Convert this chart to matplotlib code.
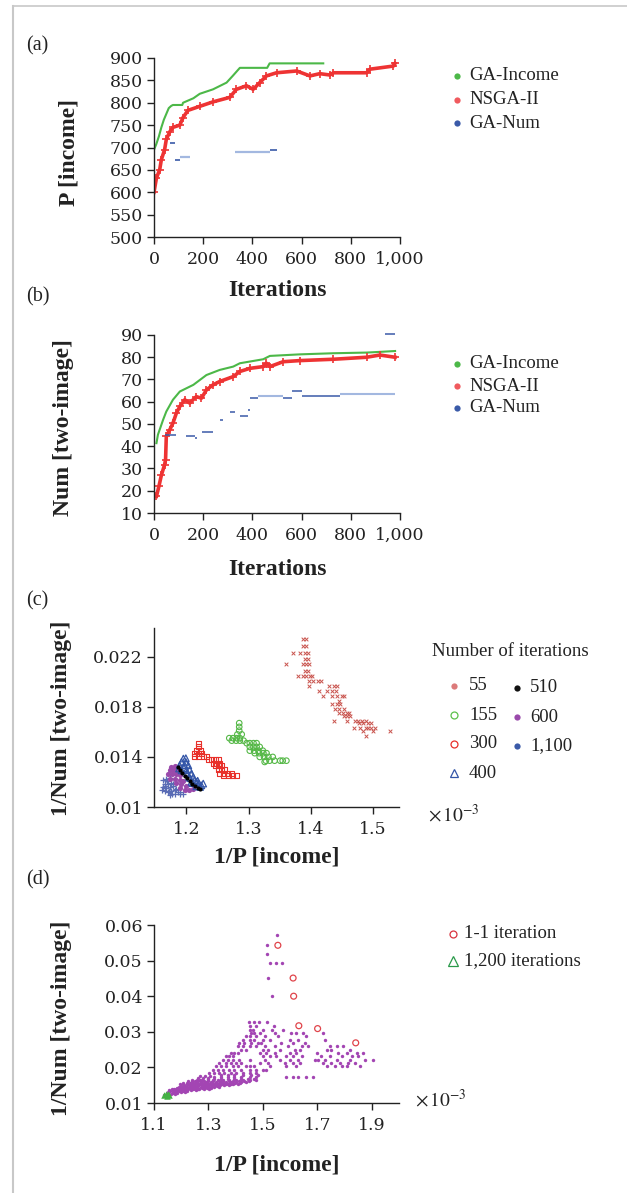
import matplotlib
matplotlib.use('Agg')
import matplotlib.pyplot as plt
from matplotlib.lines import Line2D

W, H = 627, 1193
plt.rcParams['font.family'] = ['Liberation Serif', 'DejaVu Serif']
plt.rcParams['mathtext.fontset'] = 'stix'

# ---------------- data: panel (a) ----------------
a_inc_it = [0, 9, 20, 30, 40, 50, 60, 70, 77, 115, 118, 160, 186, 240, 295, 320, 349, 460, 470, 688]
a_inc_val = [695, 707, 725, 745, 762, 775, 788, 793, 795, 795, 800, 810, 820, 830, 845, 860, 878, 878, 888, 888]
a_nsga_it = [0, 10, 23, 30, 43, 50, 64, 77, 105, 118, 138, 186, 240, 308, 335, 376, 403, 430, 457,
             498, 580, 634, 674, 715, 729, 864, 878, 973, 980]
a_nsga_val = [600, 632, 650, 673, 695, 718, 735, 745, 750, 767, 783, 792, 802, 812, 830, 838, 830, 845, 860,
              867, 871, 860, 865, 862, 867, 867, 875, 882, 888]
a_num_dark_start = [64, 84, 471]
a_num_dark_end = [84, 105, 500]
a_num_dark_val = [709, 673, 695]
a_num_light_start = [105, 328]
a_num_light_end = [145, 471]
a_num_light_val = [678, 690]

# ---------------- data: panel (b) ----------------
b_inc_it = [10, 16, 37, 50, 77, 105, 160, 213, 267, 322, 349, 444, 471, 593, 729, 864, 932, 980]
b_inc_val = [41.4, 45.2, 51.9, 55.6, 60.9, 64.6, 67.6, 72.0, 74.3, 75.8, 77.3, 79.1, 80.6, 81.3, 81.8, 82.1, 82.5, 82.8]
b_nsga_it = [10, 20, 30, 43, 47, 50, 64, 77, 91, 105, 125, 145, 172, 193, 213, 240, 267, 322, 349, 389,
             444, 457, 471, 525, 593, 729, 864, 918, 980]
b_nsga_val = [17.5, 22.0, 27.0, 31.7, 34.0, 44.4, 47.4, 50.4, 54.9, 57.9, 60.9, 59.4, 62.3, 61.6, 65.3, 67.6,
              69.1, 71.3, 73.6, 75.0, 75.8, 77.3, 75.8, 78.0, 78.5, 79.1, 80.0, 81.0, 80.0]
b_num_dark_start = [43, 132, 166, 197, 267, 308, 349, 383, 389, 525, 559, 600, 939]
b_num_dark_end = [91, 166, 175, 240, 281, 328, 383, 389, 423, 559, 600, 756, 980]
b_num_dark_val = [45.2, 44.7, 43.7, 46.6, 51.9, 55.6, 53.8, 56.4, 61.6, 61.6, 64.9, 62.6, 90.4]
b_num_light_start = [423, 756]
b_num_light_end = [525, 980]
b_num_light_val = [62.6, 63.5]

# ---------------- data: panel (c)  (1/P in 1e-3, 1/Num) ----------------
c55_rows = [
    (0.0234, [1.387, 1.392]), (0.0229, [1.387, 1.393]), (0.0223, [1.372, 1.383, 1.391, 1.395]),
    (0.0218, [1.391, 1.395]), (0.0214, [1.360, 1.387, 1.392, 1.397]), (0.0209, [1.391, 1.396]),
    (0.0205, [1.379, 1.387, 1.392, 1.399, 1.403]), (0.0201, [1.398, 1.404, 1.412, 1.416]),
    (0.0197, [1.398, 1.430, 1.437, 1.442]), (0.0193, [1.414, 1.426, 1.434, 1.441]),
    (0.0189, [1.420, 1.434, 1.442, 1.450, 1.454]), (0.0185, [1.446]),
    (0.0182, [1.435, 1.442, 1.447]), (0.0178, [1.439, 1.445, 1.453]),
    (0.0175, [1.446, 1.452, 1.458, 1.462]), (0.0173, [1.453, 1.458, 1.463]),
    (0.0169, [1.437, 1.458, 1.472, 1.477, 1.482, 1.489]), (0.0167, [1.478, 1.485, 1.493, 1.498]),
    (0.0163, [1.470, 1.480, 1.489, 1.493, 1.498, 1.504]), (0.0161, [1.485, 1.500, 1.528]),
    (0.0157, [1.489]),
]
c155_rows = [
    (0.0167, [1.285]), (0.0164, [1.285]), (0.0161, [1.285]), (0.0158, [1.282, 1.289]),
    (0.0155, [1.269, 1.275, 1.281, 1.286]), (0.0153, [1.273, 1.280, 1.286, 1.292]),
    (0.0151, [1.297, 1.302, 1.308, 1.313]), (0.0148, [1.302, 1.308, 1.313, 1.318]),
    (0.0145, [1.302, 1.309, 1.316, 1.323]), (0.0143, [1.310, 1.317, 1.324, 1.329]),
    (0.0140, [1.318, 1.325, 1.332, 1.339]), (0.0137, [1.328, 1.334, 1.342, 1.351, 1.355, 1.361]),
    (0.0136, [1.326]),
]
c300_rows = [
    (0.0151, [1.219]), (0.0148, [1.219]), (0.0145, [1.216, 1.222]), (0.0143, [1.213, 1.220, 1.224]),
    (0.0140, [1.213, 1.219, 1.227, 1.232]), (0.0138, [1.235, 1.240, 1.246, 1.251]),
    (0.0135, [1.243, 1.248, 1.254]), (0.0133, [1.246, 1.251, 1.256]),
    (0.0130, [1.251, 1.256, 1.262]), (0.0127, [1.254, 1.260, 1.266, 1.273]),
    (0.0125, [1.260, 1.267, 1.274, 1.280]),
]
c400_x = [1.195, 1.192, 1.199, 1.189, 1.197, 1.203, 1.188, 1.205, 1.192, 1.200, 1.208, 1.211, 1.204,
          1.213, 1.216, 1.220, 1.224, 1.227, 1.208, 1.216, 1.222, 1.199, 1.196, 1.201, 1.206, 1.210, 1.218]
c400_y = [0.01387, 0.0136, 0.0136, 0.01333, 0.01333, 0.01333, 0.01307, 0.01299, 0.01293, 0.01293, 0.01267,
          0.0124, 0.0124, 0.01213, 0.0120, 0.01187, 0.01173, 0.01187, 0.0120, 0.01165, 0.0116, 0.0139,
          0.0131, 0.0127, 0.0123, 0.0119, 0.0121]
c510_x = [1.1866, 1.1903, 1.1935, 1.1973, 1.2011, 1.2054, 1.2097, 1.2140, 1.2188, 1.2215]
c510_y = [0.0132, 0.01293, 0.01272, 0.01251, 0.01229, 0.01208, 0.01187, 0.01171, 0.01155, 0.01141]
c600_x = [1.1758, 1.1812, 1.1866, 1.1731, 1.1796, 1.1866, 1.1704, 1.1774, 1.1839, 1.1903, 1.1731, 1.1812,
          1.1892, 1.1946, 1.1839, 1.1919, 1.1989, 1.1892, 1.1973, 1.2043, 1.2108]
c600_y = [0.0132, 0.01325, 0.01315, 0.01293, 0.01293, 0.01288, 0.01261, 0.01261, 0.01261, 0.01253, 0.01227,
          0.01227, 0.01219, 0.01208, 0.01192, 0.01181, 0.01165, 0.01155, 0.01139, 0.01139, 0.01147]
c1100_x = [1.1624, 1.1677, 1.1731, 1.1651, 1.1704, 1.1758, 1.1624, 1.1677, 1.1731, 1.1785, 1.1651, 1.1704,
           1.1758, 1.1812, 1.1866, 1.1731, 1.1812, 1.1892, 1.1946, 1.1613,
           1.168, 1.178, 1.183, 1.172, 1.190, 1.176, 1.166]
c1100_y = [0.01213, 0.01227, 0.01235, 0.01187, 0.01187, 0.01192, 0.0116, 0.01155, 0.0116, 0.01165, 0.01128,
           0.0112, 0.01128, 0.01133, 0.0112, 0.01093, 0.01101, 0.01107, 0.01101, 0.01133,
           0.0121, 0.0118, 0.0114, 0.0113, 0.0112, 0.0110, 0.0117]

# ---------------- data: panel (d) ----------------
d_rows = [
    (0.0573, [1.552]), (0.0543, [1.515]), (0.0519, [1.515]), (0.0493, [1.525, 1.549, 1.571]),
    (0.0451, [1.518]), (0.0400, [1.534]),
    (0.0327, [1.448, 1.469, 1.485, 1.515]),
    (0.0315, [1.454, 1.473, 1.539]),
    (0.0306, [1.451, 1.463, 1.500, 1.534, 1.574]),
    (0.0297, [1.457, 1.469, 1.488, 1.543, 1.605, 1.623, 1.648, 1.722]),
    (0.0287, [1.438, 1.451, 1.475, 1.506, 1.555, 1.660]),
    (0.0278, [1.426, 1.451, 1.466, 1.500, 1.525, 1.598, 1.629, 1.728]),
    (0.0269, [1.414, 1.432, 1.457, 1.482, 1.494, 1.568, 1.611, 1.654]),
    (0.0260, [1.408, 1.426, 1.451, 1.475, 1.506, 1.543, 1.592, 1.642, 1.666, 1.746, 1.771, 1.795]),
    (0.0250, [1.420, 1.438, 1.500, 1.518, 1.562, 1.617, 1.635, 1.734, 1.752, 1.820]),
    (0.0240, [1.383, 1.395, 1.408, 1.488, 1.512, 1.543, 1.598, 1.623, 1.697, 1.777, 1.808, 1.845, 1.869]),
    (0.0231, [1.365, 1.377, 1.389, 1.500, 1.525, 1.549, 1.586, 1.611, 1.642, 1.715, 1.746, 1.789, 1.826, 1.851]),
    (0.0222, [1.352, 1.371, 1.389, 1.414, 1.451, 1.506, 1.562, 1.598, 1.629, 1.691, 1.703, 1.728, 1.771,
              1.820, 1.875, 1.906]),
    (0.0212, [1.340, 1.365, 1.383, 1.402, 1.420, 1.488, 1.518, 1.580, 1.611, 1.635, 1.722, 1.752, 1.783,
              1.814, 1.838]),
    (0.0203, [1.328, 1.346, 1.365, 1.389, 1.408, 1.438, 1.451, 1.469, 1.525, 1.586, 1.623, 1.734, 1.765,
              1.789, 1.808, 1.857]),
    (0.0194, [1.315, 1.334, 1.352, 1.377, 1.395, 1.420, 1.451, 1.475, 1.500, 1.512]),
    (0.0184, [1.303, 1.322, 1.340, 1.358, 1.383, 1.402, 1.426, 1.451, 1.475]),
    (0.0180, [1.346, 1.371, 1.395, 1.426, 1.457, 1.482]),
    (0.0176, [1.270, 1.288, 1.305]),
    (0.0174, [1.322, 1.346, 1.371, 1.395, 1.420, 1.451, 1.475, 1.586, 1.611, 1.629, 1.660, 1.685]),
    (0.0171, [1.262, 1.280, 1.300]),
    (0.0168, [1.297, 1.322, 1.346, 1.371, 1.395, 1.420, 1.445, 1.469]),
    (0.0166, [1.240, 1.258, 1.270]),
    (0.0164, [1.278, 1.297, 1.315, 1.334, 1.352, 1.377, 1.402, 1.426, 1.451, 1.475]),
    (0.0162, [1.225, 1.240, 1.250]),
    (0.0161, [1.262, 1.282, 1.300, 1.318, 1.337, 1.355, 1.374, 1.392, 1.411, 1.430, 1.448]),
    (0.0159, [1.254, 1.272, 1.291, 1.309, 1.328, 1.346, 1.365, 1.383, 1.402, 1.420, 1.438]),
    (0.0157, [1.205, 1.222, 1.232, 1.244, 1.258, 1.276, 1.293, 1.310, 1.326, 1.343, 1.361, 1.380, 1.398, 1.417]),
    (0.0154, [1.235, 1.251, 1.266, 1.285, 1.301, 1.318, 1.334, 1.352, 1.371, 1.389, 1.408]),
    (0.0153, [1.195, 1.208]),
    (0.0152, [1.220, 1.235, 1.250, 1.268, 1.284, 1.300, 1.317, 1.333, 1.350, 1.366, 1.383]),
    (0.0150, [1.211, 1.227, 1.242, 1.260, 1.276, 1.291, 1.309, 1.325, 1.342, 1.358, 1.374]),
    (0.0147, [1.200, 1.215, 1.231, 1.247, 1.263, 1.280, 1.296, 1.313, 1.330]),
    (0.0145, [1.192, 1.207, 1.223, 1.239, 1.254, 1.272, 1.288, 1.303, 1.322, 1.338]),
    (0.0143, [1.183, 1.198, 1.213, 1.228, 1.243, 1.259, 1.276, 1.293, 1.310]),
    (0.0140, [1.174, 1.190, 1.205, 1.219, 1.235, 1.251, 1.266, 1.285, 1.301]),
    (0.0138, [1.165, 1.180, 1.195, 1.210, 1.226, 1.243, 1.262]),
    (0.0136, [1.155, 1.170, 1.186, 1.202, 1.217, 1.235, 1.254]),
    (0.0133, [1.160, 1.175, 1.190, 1.206, 1.222]),
    (0.0131, [1.153, 1.168, 1.182, 1.198, 1.214]),
    (0.0128, [1.152, 1.168, 1.184]),
    (0.0126, [1.146, 1.162, 1.178]),
    (0.0122, [1.137, 1.149]),
]
d_one_x = [1.555, 1.611, 1.613, 1.632, 1.701, 1.841]
d_one_y = [0.0543, 0.0451, 0.0400, 0.0317, 0.0309, 0.0269]
d_1200_x = [1.138, 1.143, 1.148, 1.152, 1.156]
d_1200_y = [0.0122, 0.0125, 0.0121, 0.0124, 0.0122]

a_xticks = [0, 200, 400, 600, 800, 1000]
a_xticklabels = ['0', '200', '400', '600', '800', '1,000']
a_yticks = [500, 550, 600, 650, 700, 750, 800, 850, 900]
b_yticks = [10, 20, 30, 40, 50, 60, 70, 80, 90]
c_xticks = [1.2, 1.3, 1.4, 1.5]
c_xticklabels = ['1.2', '1.3', '1.4', '1.5']
c_yticks = [0.010, 0.014, 0.018, 0.022]
c_yticklabels = ['0.01', '0.014', '0.018', '0.022']
d_xticks = [1.1, 1.3, 1.5, 1.7, 1.9]
d_xticklabels = ['1.1', '1.3', '1.5', '1.7', '1.9']
d_yticks = [0.01, 0.02, 0.03, 0.04, 0.05, 0.06]
d_yticklabels = ['0.01', '0.02', '0.03', '0.04', '0.05', '0.06']

# ---------------- colours ----------------
GREEN = '#4cb848'
RED = '#ee3333'
BLUE = '#3a5aa8'
LBLUE = '#a3b8e0'
C55 = '#c9544e'
C155 = '#55b847'
C300 = '#e8302a'
C400 = '#3355a8'
C600 = '#9a4aab'
C1100 = '#5a6cb5'
PURPLE = '#a345b3'
TXT = '#222222'
TICKFONT = ['DejaVu Serif']


def flat(rows):
    xs, ys = [], []
    for y, row in rows:
        for x in row:
            xs.append(x)
            ys.append(y)
    return xs, ys


fig = plt.figure(figsize=(W / 100, H / 100), dpi=100)


def fx(px):
    return px / W


def fy(py):
    return 1 - py / H


def style(ax):
    for s in ('top', 'right'):
        ax.spines[s].set_visible(False)
    for s in ('left', 'bottom'):
        ax.spines[s].set_linewidth(1.0)
        ax.spines[s].set_color(TXT)
    ax.tick_params(direction='out', length=5, width=1.0, colors=TXT)
    ax.tick_params(axis='y', pad=3)
    ax.tick_params(axis='x', pad=5)
    ax.patch.set_alpha(0)


def ticklabels(ax):
    for t in ax.get_xticklabels() + ax.get_yticklabels():
        t.set_fontfamily(TICKFONT)
        t.set_fontsize(12.5)
        t.set_color(TXT)


ax_a = fig.add_axes([fx(154), fy(237), 246 / W, 179 / H])
ax_b = fig.add_axes([fx(154), fy(513), 246 / W, 178 / H])
ax_c = fig.add_axes([fx(154), fy(807), 245 / W, 179 / H])
ax_d = fig.add_axes([fx(154), fy(1103), 245 / W, 178 / H])
for ax in (ax_a, ax_b, ax_c, ax_d):
    style(ax)

# ---- (a)
ax_a.plot(a_inc_it, a_inc_val, color=GREEN, lw=1.5)
ax_a.plot(a_nsga_it, a_nsga_val, color=RED, lw=2.6)
ax_a.plot(a_nsga_it, a_nsga_val, '+', color=RED, ms=6, mew=1.2)
ax_a.hlines(a_num_dark_val, a_num_dark_start, a_num_dark_end, colors=BLUE, lw=1.2)
ax_a.hlines(a_num_light_val, a_num_light_start, a_num_light_end, colors=LBLUE, lw=1.6)
ax_a.set_xlim(0, 1000)
ax_a.set_ylim(500, 900)
ax_a.set_xticks(a_xticks)
ax_a.set_xticklabels(a_xticklabels)
ax_a.set_yticks(a_yticks)

# ---- (b)
ax_b.plot(b_inc_it, b_inc_val, color=GREEN, lw=1.5)
ax_b.plot(b_nsga_it, b_nsga_val, color=RED, lw=2.6)
ax_b.plot(b_nsga_it, b_nsga_val, '+', color=RED, ms=6, mew=1.2)
ax_b.hlines(b_num_dark_val, b_num_dark_start, b_num_dark_end, colors=BLUE, lw=1.1, clip_on=False)
ax_b.hlines(b_num_light_val, b_num_light_start, b_num_light_end, colors=LBLUE, lw=1.5)
ax_b.set_xlim(0, 1000)
ax_b.set_ylim(10, 90)
ax_b.set_xticks(a_xticks)
ax_b.set_xticklabels(a_xticklabels)
ax_b.set_yticks(b_yticks)

# ---- (c)
x55, y55 = flat(c55_rows)
x155, y155 = flat(c155_rows)
x300, y300 = flat(c300_rows)
ax_c.scatter(x55, y55, marker='x', s=7, color=C55, linewidths=0.7)
ax_c.scatter(x155, y155, marker='o', s=16, facecolors='none', edgecolors=C155, linewidths=0.8)
ax_c.scatter(x300, y300, marker='s', s=13, facecolors='none', edgecolors=C300, linewidths=0.8)
ax_c.scatter(c1100_x, c1100_y, marker='+', s=22, color=C1100, linewidths=0.9)
ax_c.scatter(c600_x, c600_y, marker='o', s=14, color=C600, linewidths=0)
ax_c.scatter(c400_x, c400_y, marker='^', s=22, facecolors='none', edgecolors=C400, linewidths=0.9)
ax_c.scatter(c510_x, c510_y, marker='o', s=9, color='black', linewidths=0)
ax_c.set_xlim(1.1477, 1.5424)
ax_c.set_ylim(0.010, 0.0243)
ax_c.set_xticks(c_xticks)
ax_c.set_xticklabels(c_xticklabels)
ax_c.set_yticks(c_yticks)
ax_c.set_yticklabels(c_yticklabels)

# ---- (d)
dx, dy = flat(d_rows)
ax_d.scatter(dx, dy, marker='o', s=6, color=PURPLE, linewidths=0)
ax_d.scatter(d_one_x, d_one_y, marker='o', s=18, facecolors='none', edgecolors='#e0444a', linewidths=0.9)
ax_d.scatter(d_1200_x, d_1200_y, marker='^', s=22, color='#45b045', linewidths=0)
ax_d.set_xlim(1.1, 2.0)
ax_d.set_ylim(0.01, 0.06)
ax_d.set_xticks(d_xticks)
ax_d.set_xticklabels(d_xticklabels)
ax_d.set_yticks(d_yticks)
ax_d.set_yticklabels(d_yticklabels)

for ax in (ax_a, ax_b, ax_c, ax_d):
    ticklabels(ax)


# ---------------- texts ----------------
def ftext(px, py, s, **kw):
    kw.setdefault('va', 'center')
    kw.setdefault('ha', 'left')
    kw.setdefault('fontsize', 13.5)
    kw.setdefault('color', TXT)
    fig.text(fx(px), fy(py), s, **kw)


for lab, py in (('(a)', 46), ('(b)', 297), ('(c)', 601), ('(d)', 880)):
    ftext(26, py, lab, fontsize=14.5)

bold = dict(fontsize=17, fontweight='bold', ha='center')
ftext(277, 290, 'Iterations', **bold)
ftext(277, 570, 'Iterations', **bold)
ftext(277, 857, '1/P [income]', **bold)
ftext(277, 1165, '1/P [income]', **bold)
ftext(69, 152, 'P [income]', rotation=90, **bold)
ftext(64, 428, 'Num [two-image]', rotation=90, **bold)
ftext(61, 718, '1/Num [two-image]', rotation=90, **bold)
ftext(61, 1018, '1/Num [two-image]', rotation=90, **bold)

ftext(428, 815, r'$\times\,10^{-3}$', fontsize=14)
ftext(415, 1100, r'$\times\,10^{-3}$', fontsize=14)


def lmark(px, py, **kw):
    kw.setdefault('linestyle', 'none')
    fig.add_artist(Line2D([fx(px)], [fy(py)], transform=fig.transFigure, **kw))


for py0 in (76, 364):
    gap = 23.5 if py0 == 76 else 22
    for i, (lab, col) in enumerate((('GA-Income', '#4cb848'), ('NSGA-II', '#f05a5e'), ('GA-Num', '#3a5aa8'))):
        lmark(457, py0 + i * gap, marker='o', ms=4.5, color=col, mew=0)
        ftext(469, py0 + i * gap, lab)

ftext(432, 652, 'Number of iterations')
leg_c1 = [('55', dict(marker='o', ms=4.5, color='#dc7a7a', mew=0)),
          ('155', dict(marker='o', ms=5, mfc='none', mec='#5cc04b', mew=0.9)),
          ('300', dict(marker='o', ms=5, mfc='none', mec='#e8302a', mew=0.9)),
          ('400', dict(marker='^', ms=6, mfc='none', mec='#3355a8', mew=0.9))]
for i, (lab, kw) in enumerate(leg_c1):
    lmark(454, 686 + i * 29, **kw)
    ftext(469, 686 + i * 29, lab)
leg_c2 = [('510', '#111111'), ('600', '#9a4aab'), ('1,100', '#3a5aa8')]
for i, (lab, col) in enumerate(leg_c2):
    lmark(517, 688 + i * 29, marker='o', ms=4.5, color=col, mew=0)
    ftext(530, 688 + i * 29, lab)

lmark(453, 934, marker='o', ms=5, mfc='none', mec='#d9333f', mew=0.9)
ftext(464, 933, '1-1 iteration')
lmark(453, 961, marker='^', ms=6.5, mfc='none', mec='#2a9a4a', mew=0.9)
ftext(464, 961, '1,200 iterations')

# frame lines
fig.add_artist(Line2D([fx(13), 1.0], [fy(6), fy(6)], transform=fig.transFigure, color='#c8c8c8', lw=1.2))
fig.add_artist(Line2D([fx(13), fx(13)], [fy(6), 0.0], transform=fig.transFigure, color='#c8c8c8', lw=1.5))

fig.savefig('out.png', dpi=100)
